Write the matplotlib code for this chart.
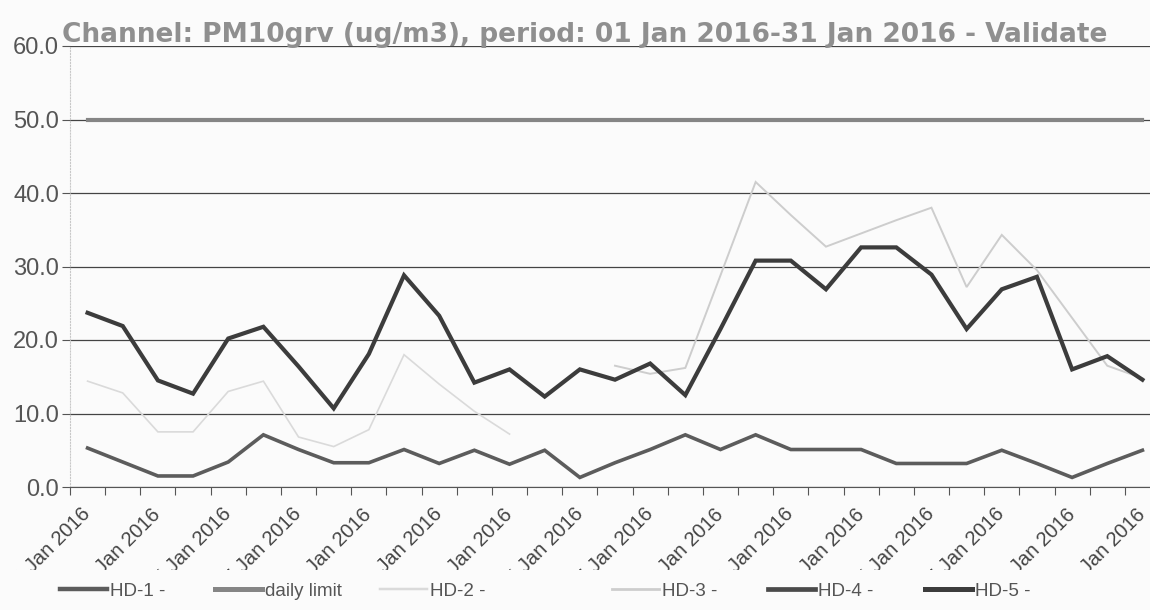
import matplotlib
matplotlib.use('Agg')
import matplotlib.pyplot as plt
import numpy as np
from matplotlib.lines import Line2D
from matplotlib.transforms import Bbox, TransformedBbox

plt.rcParams['font.family'] = ['Liberation Sans', 'DejaVu Sans']

days = ['%02d Jan 2016' % d for d in range(1, 32)]
nan = np.nan
hd1 = [5.3, 3.4, 1.5, 1.5, 3.4, 7.1, 5.1, 3.3, 3.3, 5.1, 3.2, 5.0, 3.1, 5.0, 1.3, 3.3,
       5.1, 7.1, 5.1, 7.1, 5.1, 5.1, 5.1, 3.2, 3.2, 3.2, 5.0, 3.2, 1.3, 3.2, 5.0]
daily_limit = [50.0] * 31
hd2 = [14.4, 12.8, 7.5, 7.5, 13.0, 14.4, 6.8, 5.5, 7.8, 18.0, 14.0, 10.3, 7.2, nan, nan, nan,
       nan, nan, nan, nan, nan, nan, nan, nan, nan, nan, nan, nan, nan, nan, nan]
hd3 = [nan, nan, nan, nan, nan, nan, nan, nan, nan, nan, nan, nan, nan, nan, nan, 16.5,
       15.4, 16.2, 28.8, 41.5, 37.0, 32.7, 34.5, 36.3, 38.0, 27.2, 34.3, 29.5, 23.0, 16.5, 14.8]
hd4 = [nan] * 31
hd5 = [23.7, 21.9, 14.5, 12.7, 20.2, 21.8, 16.4, 10.7, 18.1, 28.8, 23.3, 14.2, 16.0, 12.3, 16.0, 14.6,
       16.8, 12.5, 21.5, 30.8, 30.8, 26.9, 32.6, 32.6, 28.9, 21.5, 26.9, 28.6, 16.0, 17.8, 14.6]

series = [('HD-1 -', hd1, '#5c5c5c', 2.6),
          ('daily limit', daily_limit, '#858585', 3.0),
          ('HD-2 -', hd2, '#dadada', 1.2),
          ('HD-3 -', hd3, '#cdcdcd', 1.4),
          ('HD-4 -', hd4, '#4a4a4a', 2.8),
          ('HD-5 -', hd5, '#3c3c3c', 3.0)]

fig = plt.figure(figsize=(11.5, 6.1), dpi=100, facecolor='#fbfbfb')
ax = fig.add_axes([70 / 1150, 123 / 610, 1090 / 1150, 441 / 610])
ax.set_facecolor('#fbfbfb')

x = np.arange(len(days))
handles = []
for name, vals, col, lw in series:
    ln, = ax.plot(x, vals, color=col, lw=lw, solid_joinstyle='miter', zorder=3)
    handles.append(ln)

ax.set_xlim(-0.5, len(days) - 0.5)
ax.set_ylim(0, 60)
ax.set_yticks(np.arange(0, 61, 10))
ax.set_yticklabels(['%.1f' % v for v in np.arange(0, 61, 10)])
ax.yaxis.grid(True, color='#444444', lw=0.9)
ax.set_axisbelow(True)
for s in ('top', 'right'):
    ax.spines[s].set_visible(False)
ax.spines['left'].set_color('#c8c8c8')
ax.spines['left'].set_linestyle(':')
ax.spines['bottom'].set_color('#555555')
ax.tick_params(axis='y', length=6, color='#555555', labelsize=17, labelcolor='#555555', pad=2)

# tick marks between the days, labels on every second day
ax.set_xticks(np.arange(-0.5, len(days), 1.0))
ax.set_xticklabels([])
ax.tick_params(axis='x', which='major', length=6, color='#555555')
ax.set_xticks(x[::2], days[::2], minor=True)
ax.tick_params(axis='x', which='minor', length=0, pad=17.5, labelsize=14.5, labelcolor='#444444')
# the day numbers were cut off in the original export
clip = TransformedBbox(Bbox.from_extents(0, 40 / 610, 1, 1), fig.transFigure)
for lbl in ax.get_xticklabels(minor=True):
    lbl.set_rotation(45)
    lbl.set_ha('right')
    lbl.set_va('center')
    lbl.set_rotation_mode('anchor')
    lbl.set_clip_box(clip)
    lbl.set_clip_on(True)

fig.text(62 / 1150, 1 - 42 / 610, 'Channel: PM10grv (ug/m3), period: 01 Jan 2016-31 Jan 2016 - Validate',
         family='DejaVu Sans', fontsize=19, fontweight='bold', color='#8f8f8f', va='baseline')

leg_x = [60, 215, 380, 612, 768, 925]
for (name, vals, col, lw), h, lx in zip(series, handles, leg_x):
    lh = Line2D([], [], color=col, lw=lw + 0.6)
    fig.legend(handles=[lh], labels=[name], loc='center left', bbox_to_anchor=(lx / 1150, 1 - 591 / 610),
               frameon=False, fontsize=13.5, handlelength=2.5, handletextpad=0.15, borderpad=0,
               borderaxespad=0, labelcolor='#555555')

fig.savefig('out.png', dpi=100, facecolor=fig.get_facecolor())
